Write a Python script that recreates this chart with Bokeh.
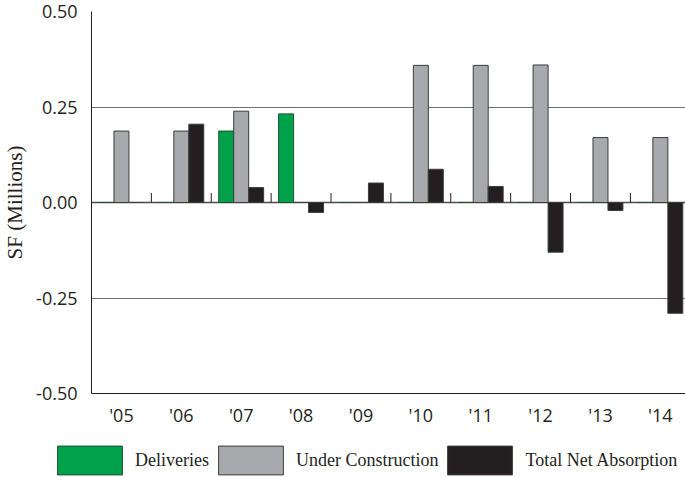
from bokeh.plotting import figure
from bokeh.models import (Range1d, FixedTicker, Span, Legend, LegendItem,
                          NumeralTickFormatter)
from bokeh.embed import file_html
from bokeh.resources import INLINE

# Annual office market activity, millions of square feet
years = ["'05", "'06", "'07", "'08", "'09", "'10", "'11", "'12", "'13", "'14"]
deliveries = [0.0, 0.0, 0.187, 0.232, 0.0, 0.0, 0.0, 0.0, 0.0, 0.0]
under_construction = [0.187, 0.187, 0.239, 0.0, 0.0, 0.359, 0.359, 0.360, 0.170, 0.170]
net_absorption = [0.0, 0.205, 0.039, -0.026, 0.051, 0.087, 0.042, -0.130, -0.021, -0.290]
y_ticks = [-0.5, -0.25, 0.0, 0.25, 0.5]
series_names = ["Deliveries", "Under Construction", "Total Net Absorption"]

GREEN = "#00A14B"
GREY = "#A7A9AC"
BLACK = "#231F20"
INK = "#231F20"
styles = [dict(fill_color=GREEN, line_color="#1F4D33"),
          dict(fill_color=GREY, line_color="#3C3C3C"),
          dict(fill_color=BLACK, line_color="#3C3C3C")]

n = len(years)
centers = [i + 0.5 for i in range(n)]
bar_w = 0.25
offsets = [-bar_w, 0.0, bar_w]
series = [deliveries, under_construction, net_absorption]

p = figure(width=685, height=429,
           x_range=Range1d(0, 9.92), y_range=Range1d(-0.5, 0.5),
           output_backend="svg", toolbar_location=None,
           min_border_left=90, min_border_right=0,
           min_border_top=11, min_border_bottom=34)
p.outline_line_color = None
p.background_fill_color = "white"
p.border_fill_color = "white"

# horizontal rules
p.xgrid.visible = False
p.ygrid.ticker = FixedTicker(ticks=[-0.25, 0.25, 0.5])
p.ygrid.grid_line_color = "#6D6E71"
p.ygrid.grid_line_width = 1
p.add_layout(Span(location=0, dimension="width", line_color="#4D4D4F",
                  line_width=1.6, level="underlay"))

# bars: three per year
for offset, values, st in zip(offsets, series, styles):
    p.vbar(x=[c + offset for c in centers], top=values, bottom=0,
           width=bar_w, line_width=1, **st)

# small separators between years, standing on the zero line
bounds = list(range(1, n))
p.segment(x0=bounds, y0=[0] * len(bounds), x1=bounds, y1=[0.025] * len(bounds),
          line_color=INK, line_width=1)

# y axis
p.yaxis.ticker = FixedTicker(ticks=y_ticks)
p.yaxis.formatter = NumeralTickFormatter(format="0.00")
p.yaxis.major_tick_line_color = None
p.yaxis.major_tick_out = 0
p.yaxis.minor_tick_line_color = None
p.yaxis.minor_tick_out = 0
p.yaxis.axis_line_color = INK
p.yaxis.major_label_standoff = 14
p.yaxis.major_label_text_font = "Open Sans"
p.yaxis.major_label_text_font_size = "18px"
p.yaxis.major_label_text_color = INK
p.yaxis.axis_label = "SF (Millions)"
p.yaxis.axis_label_text_font = "Liberation Serif"
p.yaxis.axis_label_text_font_size = "21px"
p.yaxis.axis_label_text_font_style = "normal"
p.yaxis.axis_label_text_color = INK
p.yaxis.axis_label_standoff = 6

# x axis
p.xaxis.ticker = FixedTicker(ticks=centers)
p.xaxis.major_label_overrides = {c: y for c, y in zip(centers, years)}
p.xaxis.major_tick_line_color = None
p.xaxis.major_tick_out = 0
p.xaxis.minor_tick_line_color = None
p.xaxis.minor_tick_out = 0
p.xaxis.axis_line_color = INK
p.xaxis.major_label_standoff = 9
p.xaxis.major_label_text_font = "Open Sans"
p.xaxis.major_label_text_font_size = "18px"
p.xaxis.major_label_text_color = INK

# legend strip under the chart; its bars sit far outside its own y range,
# so only the legend swatches show
lf = figure(width=685, height=48, x_range=Range1d(0, 9.92), y_range=Range1d(5, 6),
            output_backend="svg", toolbar_location=None,
            x_axis_type=None, y_axis_type=None,
            min_border_left=0, min_border_right=0,
            min_border_top=0, min_border_bottom=0)
lf.outline_line_color = None
lf.xgrid.visible = False
lf.ygrid.visible = False
items = []
for name, offset, values, st in zip(series_names, offsets, series, styles):
    r = lf.vbar(x=[c + offset for c in centers], top=values, bottom=0,
                width=bar_w, line_width=1, **st)
    items.append(LegendItem(label=name, renderers=[r]))
legend = Legend(items=items, orientation="horizontal", location=(49, -1.4),
                glyph_width=81, glyph_height=36, label_standoff=5, spacing=1,
                padding=0, margin=0, border_line_color=None,
                background_fill_alpha=0,
                label_text_font="Liberation Serif", label_text_font_size="18px",
                label_text_color=INK)
lf.add_layout(legend)

open("out.html", "w").write(file_html([p, lf], INLINE))
